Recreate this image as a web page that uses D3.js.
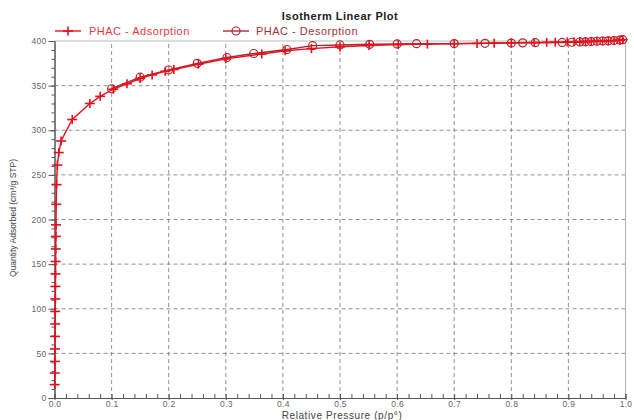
<!DOCTYPE html>
<html>
<head>
<meta charset="utf-8">
<script src="https://cdn.jsdelivr.net/npm/d3@7/dist/d3.min.js"></script>
<style>
  body { margin: 0; background: #fff; }
  text { font-family: "Liberation Sans", Arial, sans-serif; }
</style>
</head>
<body>
<div id="chart"></div>
<script>
// adsorption branch: relative pressure / quantity adsorbed
const adsP = [0.0003, 0.0005, 0.0007, 0.0009, 0.001, 0.0012, 0.0013, 0.0015, 0.0016, 0.0018,
  0.002, 0.0022, 0.0024, 0.0026, 0.003, 0.0036, 0.005, 0.0075, 0.0115, 0.031,
  0.062, 0.08, 0.103, 0.127, 0.15, 0.171, 0.194, 0.209, 0.252, 0.30,
  0.363, 0.404, 0.45, 0.50, 0.551, 0.602, 0.653, 0.70, 0.74, 0.77,
  0.80, 0.84, 0.862, 0.877, 0.898, 0.91, 0.92, 0.93, 0.94, 0.95,
  0.96, 0.97, 0.98, 0.99, 0.995];
const adsQ = [15, 28, 41, 55, 69, 83, 97, 111, 125, 139,
  153, 167, 181, 194, 217, 239, 261, 275, 288, 312,
  330, 338, 346, 352, 358, 362, 366, 368, 374, 380,
  385.5, 389, 391.5, 393.5, 395, 396, 396.5, 397, 397.3, 397.6,
  398, 398.3, 398.5, 398.7, 399, 399.2, 399.3, 399.5, 399.6, 399.8,
  400, 400.2, 400.5, 401, 401.5];

// desorption branch
const desP = [0.995, 0.99, 0.98, 0.97, 0.96, 0.95, 0.94, 0.93, 0.92, 0.906,
  0.889, 0.842, 0.82, 0.80, 0.754, 0.70, 0.634, 0.60, 0.552, 0.50,
  0.452, 0.407, 0.349, 0.302, 0.25, 0.2, 0.15, 0.1];
const desQ = [401.5, 401, 400.5, 400.2, 400, 399.7, 399.4, 399.1, 398.9, 398.6,
  398.4, 398.1, 397.9, 397.7, 397.4, 397.1, 397, 396.7, 396.3, 395.6,
  394.8, 390.5, 386, 381.5, 375, 367.5, 359.5, 346.5];

const xTicks = [0, 0.1, 0.2, 0.3, 0.4, 0.5, 0.6, 0.7, 0.8, 0.9, 1.0];
const yTicks = [0, 50, 100, 150, 200, 250, 300, 350, 400];

const W = 634, H = 420;
const margin = {left: 54.5, right: 8.5, top: 41, bottom: 22};

const adsColor = '#e8101c';
const desColor = '#b0262e';

const svg = d3.select('#chart').append('svg')
  .attr('width', W).attr('height', H);

const x = d3.scaleLinear().domain([0, 1]).range([margin.left, W - margin.right]);
const y = d3.scaleLinear().domain([0, 400]).range([H - margin.bottom, margin.top]);

// grid
const grid = svg.append('g');
grid.selectAll('.gx').data(xTicks.slice(1, -1)).enter().append('line')
  .attr('x1', d => x(d)).attr('x2', d => x(d))
  .attr('y1', y(0)).attr('y2', y(400))
  .attr('stroke', '#777').attr('stroke-width', 0.8).attr('stroke-dasharray', '4,3');
grid.selectAll('.gy').data(yTicks.slice(1, -1)).enter().append('line')
  .attr('x1', x(0)).attr('x2', x(1))
  .attr('y1', d => y(d)).attr('y2', d => y(d))
  .attr('stroke', '#777').attr('stroke-width', 0.8).attr('stroke-dasharray', '4,3');

// frame top / right
svg.append('line').attr('x1', x(0)).attr('x2', x(1)).attr('y1', y(400)).attr('y2', y(400))
  .attr('stroke', '#bbb').attr('stroke-width', 1.2);
svg.append('line').attr('x1', x(1)).attr('x2', x(1)).attr('y1', y(0)).attr('y2', y(400))
  .attr('stroke', '#bbb').attr('stroke-width', 1.2);

// axes
const xAxis = svg.append('g').attr('transform', `translate(0,${y(0)})`)
  .call(d3.axisBottom(x).tickValues(d3.range(0, 1.0001, 0.02)).tickSize(-4).tickFormat(''));
const xMajor = svg.append('g').attr('transform', `translate(0,${y(0)})`)
  .call(d3.axisBottom(x).tickValues(xTicks).tickSizeInner(2).tickSizeOuter(0).tickPadding(1)
    .tickFormat(d3.format('.1f')));
const yAxis = svg.append('g').attr('transform', `translate(${x(0)},0)`)
  .call(d3.axisLeft(y).tickValues(d3.range(0, 401, 10)).tickSize(3).tickFormat(''));
const yMajor = svg.append('g').attr('transform', `translate(${x(0)},0)`)
  .call(d3.axisLeft(y).tickValues(yTicks).tickSize(6).tickSizeOuter(0).tickPadding(2));

[xAxis, xMajor, yAxis, yMajor].forEach(g => {
  g.select('.domain').attr('stroke', '#555');
  g.selectAll('.tick line').attr('stroke', '#555');
  g.selectAll('.tick text').attr('fill', '#666').style('font-size', '8.5px')
    .style('letter-spacing', '0.3px')
    .style('font-family', '"Liberation Sans", Arial, sans-serif');
});

// lines
const line = d3.line().x(d => x(d[0])).y(d => y(d[1]));
const ads = adsP.map((p, i) => [p, adsQ[i]]);
const des = desP.map((p, i) => [p, desQ[i]]);

svg.append('path').datum(des).attr('d', line)
  .attr('fill', 'none').attr('stroke', desColor).attr('stroke-width', 1.4);
svg.append('path').datum(ads).attr('d', line)
  .attr('fill', 'none').attr('stroke', adsColor).attr('stroke-width', 1.4);

// markers
const plus = (g, px, py) => {
  g.append('line').attr('x1', px - 5).attr('x2', px + 5).attr('y1', py).attr('y2', py)
    .attr('stroke', adsColor).attr('stroke-width', 1.6);
  g.append('line').attr('x1', px).attr('x2', px).attr('y1', py - 4.5).attr('y2', py + 4.5)
    .attr('stroke', adsColor).attr('stroke-width', 1.6);
};
const circ = (g, px, py) => {
  g.append('circle').attr('cx', px).attr('cy', py).attr('r', 4)
    .attr('fill', 'none').attr('stroke', desColor).attr('stroke-width', 1.2);
};

const mDes = svg.append('g');
des.forEach(d => circ(mDes, x(d[0]), y(d[1])));
const mAds = svg.append('g');
ads.forEach(d => plus(mAds, x(d[0]), y(d[1])));

// title
svg.append('text').attr('x', 340).attr('y', 20).attr('text-anchor', 'middle')
  .style('font-size', '11px').style('font-weight', 'bold').style('letter-spacing', '0.5px')
  .attr('fill', '#222')
  .text('Isotherm Linear Plot');

// legend
const leg = svg.append('g');
leg.append('line').attr('x1', 55).attr('x2', 81).attr('y1', 31).attr('y2', 31)
  .attr('stroke', adsColor).attr('stroke-width', 1.4);
plus(leg, 68, 31);
leg.append('text').attr('x', 89).attr('y', 35).style('font-size', '11px')
  .style('letter-spacing', '0.5px')
  .attr('fill', '#e83a44').text('PHAC  - Adsorption');
leg.append('line').attr('x1', 223).attr('x2', 249).attr('y1', 31).attr('y2', 31)
  .attr('stroke', desColor).attr('stroke-width', 1.4);
circ(leg, 236, 31);
leg.append('text').attr('x', 256).attr('y', 35).style('font-size', '11px')
  .style('letter-spacing', '0.5px')
  .attr('fill', '#a83040').text('PHAC  - Desorption');

// axis titles
svg.append('text').attr('x', 342).attr('y', 419).attr('text-anchor', 'middle')
  .style('font-size', '10px').style('letter-spacing', '0.6px').attr('fill', '#444')
  .text('Relative Pressure (p/p°)');
svg.append('text').attr('transform', `translate(16,218) rotate(-90)`).attr('text-anchor', 'middle')
  .style('font-size', '8.5px').attr('fill', '#444')
  .text('Quantity Adsorbed (cm³/g STP)');
</script>
</body>
</html>
